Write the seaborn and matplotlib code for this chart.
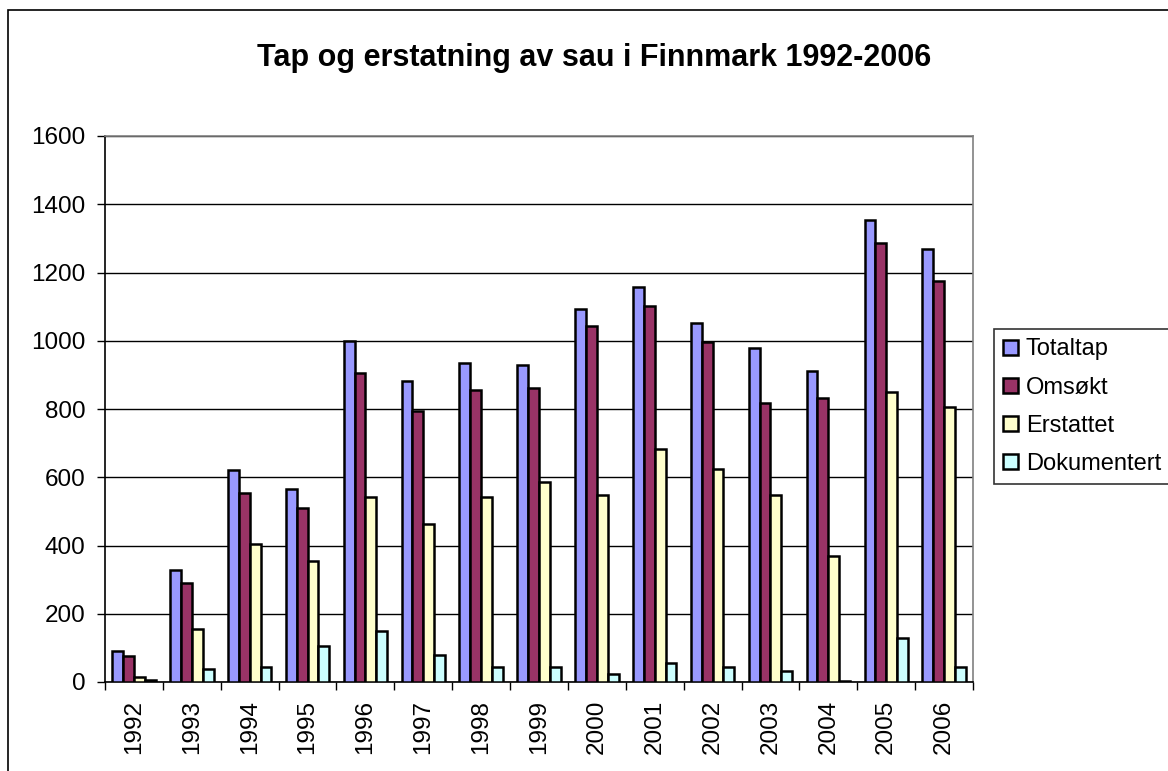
import pandas as pd
import matplotlib
matplotlib.use('Agg')
import matplotlib.pyplot as plt
from matplotlib.patches import Rectangle
import seaborn as sns

# --- data ---
years = [str(y) for y in range(1992, 2007)]
totaltap = [90, 328, 620, 565, 1000, 883, 934, 929, 1092, 1158, 1051, 979, 911, 1355, 1270]
omsokt = [77, 290, 555, 510, 906, 795, 856, 861, 1042, 1102, 995, 817, 833, 1287, 1175]
erstattet = [15, 156, 403, 356, 543, 464, 543, 587, 548, 683, 625, 548, 369, 849, 805]
dokumentert = [6, 39, 44, 105, 150, 78, 44, 44, 22, 56, 44, 32, 4, 129, 44]

series_names = ['Totaltap', 'Omsøkt', 'Erstattet', 'Dokumentert']
colors = ['#9999FF', '#993366', '#FFFFCC', '#CCFFFF']

df = pd.DataFrame({'year': years, 'Totaltap': totaltap, 'Omsøkt': omsokt,
                   'Erstattet': erstattet, 'Dokumentert': dokumentert})
long_df = df.melt(id_vars='year', var_name='serie', value_name='antall')

# --- plot ---
sns.set_style('white')
plt.rcParams['font.family'] = ['Liberation Sans', 'DejaVu Sans']
plt.rcParams['text.color'] = 'black'
plt.rcParams['xtick.color'] = 'black'
plt.rcParams['ytick.color'] = 'black'

fig = plt.figure(figsize=(11.68, 7.71), dpi=100)
W, H = 1168, 771
ax = fig.add_axes([105 / W, 1 - 682 / H, (973 - 105) / W, (682 - 136) / H])

sns.barplot(data=long_df, x='year', y='antall', hue='serie', hue_order=series_names,
            palette=colors, saturation=1, width=0.75, edgecolor='black',
            linewidth=1.8, ax=ax, legend=True, zorder=3)

ax.set_ylim(0, 1600)
ax.set_xlim(-0.5, len(years) - 0.5)
ax.set_yticks(range(0, 1601, 200))
ax.yaxis.grid(True, color='black', linewidth=1)
ax.set_axisbelow(True)
ax.set_xlabel('')
ax.set_ylabel('')

# category labels, ticks between categories
ax.set_xticks(range(len(years)))
ax.set_xticklabels(years, rotation=90, fontsize=17.5)
ax.tick_params(axis='x', which='major', length=0, pad=13)
ax.set_xticks([i - 0.5 for i in range(len(years) + 1)], minor=True)
ax.tick_params(axis='x', which='minor', length=6, width=1, color='black', direction='out', bottom=True)
ax.tick_params(axis='y', length=6, width=1, color='black', direction='out', left=True, labelsize=17.5, pad=8)

for side in ['left', 'bottom']:
    ax.spines[side].set_color('black')
    ax.spines[side].set_linewidth(1.2)
for side in ['top', 'right']:
    ax.spines[side].set_color('#808080')
    ax.spines[side].set_linewidth(1.2)

ax.legend_.remove()
handles = ax.containers
leg = fig.legend(handles, series_names, loc='upper left',
                 bbox_to_anchor=(994 / W, 1 - 329 / H), fontsize=17,
                 frameon=True, fancybox=False, handlelength=0.6, handleheight=0.6,
                 handletextpad=0.35, labelspacing=0.68, borderpad=0.4, borderaxespad=0)
leg.get_frame().set_edgecolor('black')
leg.get_frame().set_linewidth(1.2)

fig.text(594 / W, 1 - 58 / H, 'Tap og erstatning av sau i Finnmark 1992-2006',
         ha='center', va='center', fontsize=22, fontweight='bold')

# outer chart border
fig.patches.append(Rectangle((8 / W, -0.1), 1.2, 1 - 10 / H + 0.1, transform=fig.transFigure,
                             fill=False, edgecolor='black', linewidth=1.2))

plt.savefig('out.png', dpi=100)
